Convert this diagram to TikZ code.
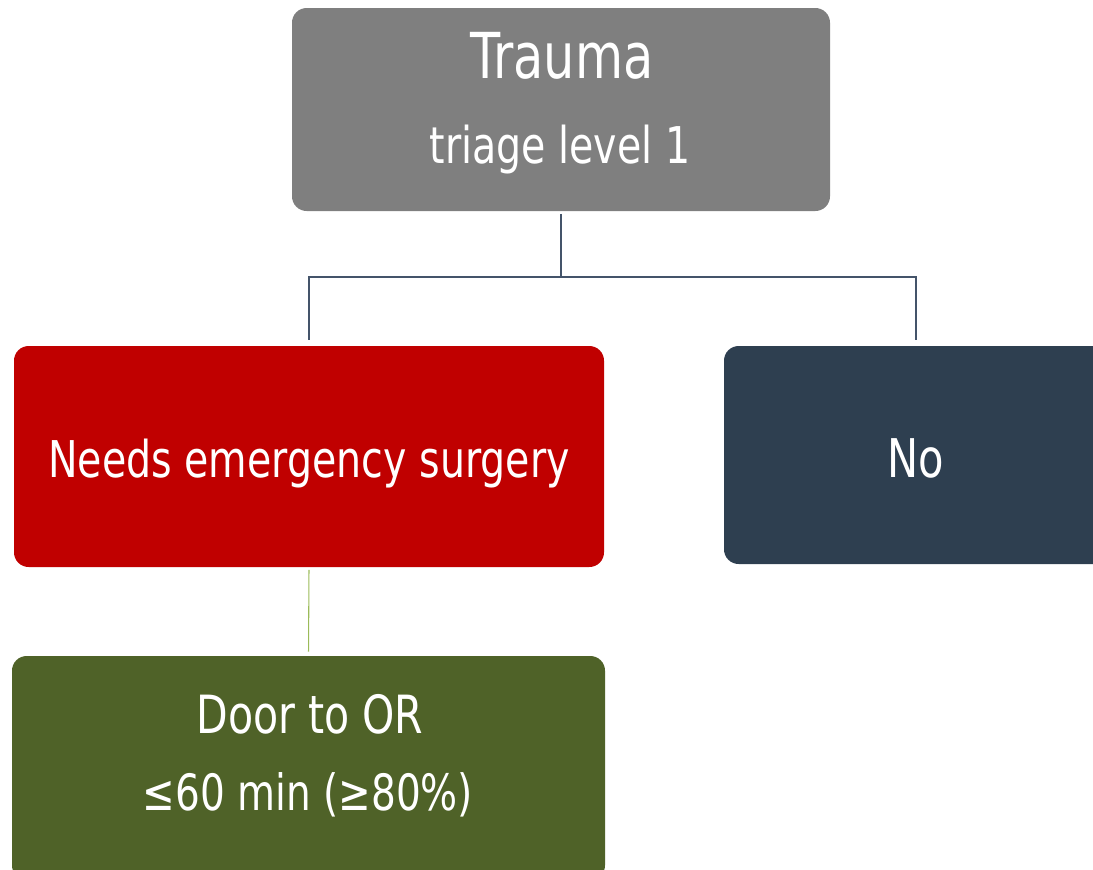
\documentclass[tikz,border=0pt]{standalone}
\usepackage{fontspec}
\setmainfont{DejaVu Sans}[FakeStretch=0.78]
\usetikzlibrary{calc}
\definecolor{boxgray}{HTML}{7F7F7F}
\definecolor{boxred}{HTML}{C00000}
\definecolor{boxnavy}{HTML}{2E3F50}
\definecolor{boxolive}{HTML}{4F6228}
\definecolor{treeline}{HTML}{44546A}
\definecolor{leafline}{HTML}{9BBB59}
\tikzset{
  box/.style={rectangle, rounded corners=11pt, draw=none, inner sep=0pt},
  txt/.style={anchor=base, text=white, inner sep=0pt},
  tree/.style={draw=treeline, line width=1.4pt},
  leaf/.style={draw=leafline, line width=0.8pt},
}
\begin{document}
\begin{tikzpicture}[x=0.75pt, y=-0.75pt]
\useasboundingbox (0,0) rectangle (1093,869);
\clip (0,0) rectangle (1093,869);

% boxes
\node[box, fill=boxgray,  minimum width=403.5pt, minimum height=152.25pt] (trauma) at (561,109.5) {};
\node[box, fill=boxred,   minimum width=442.5pt, minimum height=165.75pt] (surgery) at (309,456.5) {};
\node[box, fill=boxnavy,  minimum width=288pt,   minimum height=163.5pt]  (no) at (916,455) {};
\node[box, fill=boxolive, minimum width=444.75pt, minimum height=168pt]   (door) at (308.5,768) {};

% labels
\node[txt, font=\fontsize{47.5}{56}\selectfont] (tTrauma) at (562,78) {Trauma};
\node[txt, font=\fontsize{38}{45}\selectfont] (tTriage) at (560,163) {triage level 1};
\node[txt, font=\fontsize{38}{46}\selectfont] (tSurgery) at (309,477) {Needs emergency surgery};
\node[txt, font=\fontsize{40}{48}\selectfont] (tNo) at (916,477) {No};
\node[txt, font=\fontsize{39.5}{47}\selectfont] (tDoor) at (310,733) {Door to OR};
\node[txt, font=\fontsize{37.5}{45}\selectfont] (tTarget) at (308,810) {≤60 min (≥80\%)};

% connectors
\coordinate (split) at ($(trauma.south)+(0,66)$);
\draw[tree, shorten <=2pt] (trauma.south) -- (split);
\draw[tree, shorten >=4pt] (split) -| (surgery.north);
\draw[tree, shorten >=4pt] (split) -| (no.north);
\draw[leaf, shorten <=2pt, shorten >=3pt] (surgery.south) -- (door.north);
\end{tikzpicture}
\end{document}
